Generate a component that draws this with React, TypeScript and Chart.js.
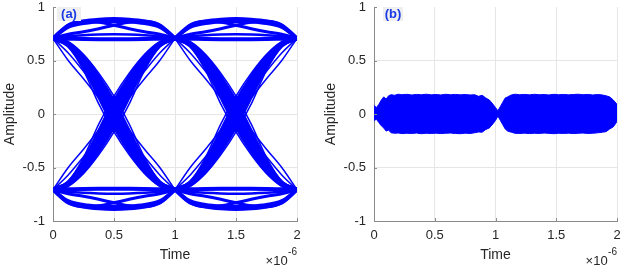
import React, { useEffect, useRef } from "react";
import { Chart, registerables } from "chart.js";

Chart.register(...registerables);

// ---------- data ----------
// time axis in units of 1e-6 s
const X_TICKS = [0, 0.5, 1, 1.5, 2];
const Y_TICKS = [-1, -0.5, 0, 0.5, 1];

// (a) eye diagram: one symbol window sampled at these times, shown in both windows
const T_GRID = [0, 0.125, 0.25, 0.375, 0.5, 0.625, 0.75, 0.875, 1];
const WINDOW_OFFSETS = [0, 1];

// same-level traces, high rail
const HIGH_TOP = [0.707, 0.828, 0.865, 0.882, 0.888, 0.882, 0.865, 0.828, 0.707];
const HIGH_TOP2 = [0.707, 0.81, 0.845, 0.86, 0.864, 0.86, 0.845, 0.81, 0.707];
const HIGH_CROSS_A = [0.707, 0.83, 0.866, 0.857, 0.83, 0.797, 0.768, 0.745, 0.707];
const HIGH_CROSS_B = [0.707, 0.745, 0.768, 0.797, 0.83, 0.857, 0.866, 0.83, 0.707];
const HIGH_LOW_ARC = [0.707, 0.726, 0.737, 0.743, 0.745, 0.743, 0.737, 0.726, 0.707];
const HIGH_FLAT = [0.707, 0.704, 0.701, 0.699, 0.698, 0.699, 0.701, 0.704, 0.707];

// same-level traces, low rail
const LOW_BOTTOM = [-0.707, -0.828, -0.865, -0.882, -0.888, -0.882, -0.865, -0.828, -0.707];
const LOW_BOTTOM2 = [-0.707, -0.81, -0.845, -0.86, -0.864, -0.86, -0.845, -0.81, -0.707];
const LOW_CROSS_A = [-0.707, -0.83, -0.866, -0.857, -0.83, -0.797, -0.768, -0.745, -0.707];
const LOW_CROSS_B = [-0.707, -0.745, -0.768, -0.797, -0.83, -0.857, -0.866, -0.83, -0.707];
const LOW_HIGH_ARC = [-0.707, -0.726, -0.737, -0.743, -0.745, -0.743, -0.737, -0.726, -0.707];
const LOW_FLAT = [-0.707, -0.704, -0.701, -0.699, -0.698, -0.699, -0.701, -0.704, -0.707];

// falling transitions (+0.707 -> -0.707), named by zero-crossing time
const FALL_050 = [0.707, 0.653, 0.5, 0.271, 0.0, -0.271, -0.5, -0.653, -0.707];
const FALL_047 = [0.707, 0.646, 0.474, 0.22, -0.062, -0.313, -0.521, -0.66, -0.707];
const FALL_053 = [0.707, 0.66, 0.521, 0.313, 0.062, -0.22, -0.474, -0.646, -0.707];
const FALL_044 = [0.707, 0.638, 0.444, 0.162, -0.119, -0.349, -0.54, -0.665, -0.707];
const FALL_056 = [0.707, 0.665, 0.54, 0.349, 0.119, -0.162, -0.444, -0.638, -0.707];
const FALL_041 = [0.707, 0.627, 0.407, 0.094, -0.168, -0.382, -0.556, -0.669, -0.707];
const FALL_059 = [0.707, 0.669, 0.556, 0.382, 0.168, -0.094, -0.407, -0.627, -0.707];
const FALL_FAST_START = [0.707, 0.5, 0.33, 0.15, -0.04, -0.22, -0.4, -0.57, -0.707];
const FALL_FAST_END = [0.707, 0.57, 0.4, 0.22, 0.04, -0.15, -0.33, -0.5, -0.707];

// rising transitions (-0.707 -> +0.707)
const RISE_050 = [-0.707, -0.653, -0.5, -0.271, 0.0, 0.271, 0.5, 0.653, 0.707];
const RISE_047 = [-0.707, -0.646, -0.474, -0.22, 0.062, 0.313, 0.521, 0.66, 0.707];
const RISE_053 = [-0.707, -0.66, -0.521, -0.313, -0.062, 0.22, 0.474, 0.646, 0.707];
const RISE_044 = [-0.707, -0.638, -0.444, -0.162, 0.119, 0.349, 0.54, 0.665, 0.707];
const RISE_056 = [-0.707, -0.665, -0.54, -0.349, -0.119, 0.162, 0.444, 0.638, 0.707];
const RISE_041 = [-0.707, -0.627, -0.407, -0.094, 0.168, 0.382, 0.556, 0.669, 0.707];
const RISE_059 = [-0.707, -0.669, -0.556, -0.382, -0.168, 0.094, 0.407, 0.627, 0.707];
const RISE_FAST_START = [-0.707, -0.5, -0.33, -0.15, 0.04, 0.22, 0.4, 0.57, 0.707];
const RISE_FAST_END = [-0.707, -0.57, -0.4, -0.22, -0.04, 0.15, 0.33, 0.5, 0.707];

// (b) envelope of the residual signal band
const B_TIME = [
  0, 0.02, 0.04, 0.06, 0.08, 0.1, 0.12, 0.14, 0.17, 0.2, 0.23, 0.27, 0.31, 0.35, 0.39,
  0.43, 0.47, 0.51, 0.55, 0.59, 0.63, 0.67, 0.71, 0.75, 0.79, 0.83, 0.86, 0.89, 0.92,
  0.95, 0.98, 1.0, 1.02, 1.04, 1.06, 1.08, 1.1, 1.13, 1.16, 1.2, 1.24, 1.28, 1.32,
  1.36, 1.4, 1.44, 1.48, 1.52, 1.56, 1.6, 1.64, 1.68, 1.72, 1.76, 1.8, 1.84, 1.88,
  1.91, 1.94, 1.97, 2.0,
];
const B_UPPER = [
  0.08, 0.06, 0.09, 0.13, 0.16, 0.14, 0.17, 0.18, 0.175, 0.185, 0.18, 0.184, 0.178,
  0.183, 0.18, 0.185, 0.179, 0.182, 0.178, 0.184, 0.18, 0.183, 0.179, 0.182, 0.178,
  0.18, 0.165, 0.175, 0.15, 0.13, 0.09, 0.06, 0.03, 0.07, 0.11, 0.15, 0.16, 0.178,
  0.185, 0.18, 0.183, 0.179, 0.184, 0.18, 0.182, 0.178, 0.184, 0.18, 0.183, 0.179,
  0.182, 0.185, 0.18, 0.183, 0.178, 0.182, 0.178, 0.17, 0.16, 0.13, 0.09,
];
const B_LOWER = [
  -0.06, -0.05, -0.08, -0.11, -0.13, -0.16, -0.15, -0.175, -0.18, -0.178, -0.183,
  -0.18, -0.182, -0.178, -0.184, -0.18, -0.182, -0.179, -0.183, -0.18, -0.178,
  -0.182, -0.184, -0.179, -0.182, -0.175, -0.168, -0.17, -0.145, -0.13, -0.09,
  -0.06, -0.02, -0.06, -0.1, -0.14, -0.16, -0.17, -0.18, -0.182, -0.179, -0.183,
  -0.18, -0.182, -0.178, -0.181, -0.184, -0.18, -0.182, -0.179, -0.183, -0.18,
  -0.178, -0.182, -0.18, -0.176, -0.17, -0.165, -0.14, -0.12, -0.07,
];

// ---------- styles ----------
const BLUE = "#0000ff";
const GRID = "#e6e6e6";
const AXIS = "#8a8a8a";
const TEXT = "#262626";
const FONT = "'Liberation Sans', Arial, Helvetica, sans-serif";

const EYE_TRACES: { values: number[]; width: number }[] = [
  { values: HIGH_FLAT, width: 4 },
  { values: HIGH_TOP, width: 4 },
  { values: HIGH_TOP2, width: 3 },
  { values: HIGH_CROSS_A, width: 3 },
  { values: HIGH_CROSS_B, width: 3 },
  { values: HIGH_LOW_ARC, width: 2.5 },
  { values: LOW_FLAT, width: 4 },
  { values: LOW_BOTTOM, width: 4 },
  { values: LOW_BOTTOM2, width: 3 },
  { values: LOW_CROSS_A, width: 3 },
  { values: LOW_CROSS_B, width: 3 },
  { values: LOW_HIGH_ARC, width: 2.5 },
  { values: FALL_050, width: 4.5 },
  { values: FALL_047, width: 4 },
  { values: FALL_053, width: 4 },
  { values: FALL_044, width: 3.5 },
  { values: FALL_056, width: 3.5 },
  { values: FALL_041, width: 1.5 },
  { values: FALL_059, width: 1.5 },
  { values: FALL_FAST_START, width: 1.5 },
  { values: FALL_FAST_END, width: 1.5 },
  { values: RISE_050, width: 4.5 },
  { values: RISE_047, width: 4 },
  { values: RISE_053, width: 4 },
  { values: RISE_044, width: 3.5 },
  { values: RISE_056, width: 3.5 },
  { values: RISE_041, width: 1.5 },
  { values: RISE_059, width: 1.5 },
  { values: RISE_FAST_START, width: 1.5 },
  { values: RISE_FAST_END, width: 1.5 },
];

function eyeDatasets() {
  const out: any[] = [];
  for (const tr of EYE_TRACES) {
    for (const off of WINDOW_OFFSETS) {
      out.push({
        data: T_GRID.map((t, i) => ({ x: t + off, y: tr.values[i] })),
        borderColor: BLUE,
        borderWidth: tr.width,
        pointRadius: 0,
        fill: false,
        cubicInterpolationMode: "monotone",
        borderCapStyle: "round",
        borderJoinStyle: "round",
      });
    }
  }
  return out;
}

function bandDatasets() {
  return [
    {
      data: B_TIME.map((t, i) => ({ x: t, y: B_UPPER[i] })),
      borderColor: BLUE,
      backgroundColor: BLUE,
      borderWidth: 1,
      pointRadius: 0,
      fill: "+1",
      tension: 0,
    },
    {
      data: B_TIME.map((t, i) => ({ x: t, y: B_LOWER[i] })),
      borderColor: BLUE,
      backgroundColor: BLUE,
      borderWidth: 1,
      pointRadius: 0,
      fill: false,
      tension: 0,
    },
  ];
}

function makeDecorPlugin(tag: string, tagBox: [number, number]) {
  return {
    id: "decor" + tag.replace(/[()]/g, ""),
    afterDraw(chart: any) {
      const { ctx, chartArea, scales } = chart;
      ctx.save();
      // inward tick marks
      ctx.strokeStyle = AXIS;
      ctx.lineWidth = 1;
      ctx.beginPath();
      for (const v of X_TICKS) {
        const px = Math.round(scales.x.getPixelForValue(v)) + 0.5;
        ctx.moveTo(px, chartArea.bottom);
        ctx.lineTo(px, chartArea.bottom - 3);
      }
      for (const v of Y_TICKS) {
        const py = Math.round(scales.y.getPixelForValue(v)) + 0.5;
        ctx.moveTo(chartArea.left, py);
        ctx.lineTo(chartArea.left + 3, py);
      }
      ctx.stroke();
      // panel tag
      const [bx, bw] = tagBox;
      ctx.fillStyle = "#efefef";
      ctx.fillRect(chartArea.left + bx, chartArea.top, bw, 14);
      ctx.fillStyle = "#1a3ae6";
      ctx.font = `bold 13px ${FONT}`;
      ctx.textAlign = "center";
      ctx.textBaseline = "middle";
      ctx.fillText(tag, chartArea.left + bx + bw / 2, chartArea.top + 7.5);
      // exponent label
      ctx.fillStyle = TEXT;
      ctx.textAlign = "right";
      ctx.textBaseline = "alphabetic";
      ctx.font = `10px ${FONT}`;
      const right = chartArea.right;
      ctx.fillText("-6", right, 255);
      const w = ctx.measureText("-6").width;
      ctx.font = `13px ${FONT}`;
      ctx.fillText("\u00d710", right - w - 0.5, 265);
      ctx.restore();
    },
  };
}

function buildOptions(padRight: number): any {
  return {
    responsive: false,
    animation: false,
    events: [],
    layout: { padding: { left: 0, top: 7, right: padRight, bottom: 0 } },
    plugins: { legend: { display: false }, tooltip: { enabled: false } },
    scales: {
      x: {
        type: "linear",
        min: 0,
        max: 2,
        afterBuildTicks: (s: any) => {
          s.ticks = X_TICKS.map((v) => ({ value: v }));
        },
        afterFit: (s: any) => {
          s.height = 50;
          s.paddingLeft = 0;
          s.paddingRight = 0;
        },
        ticks: {
          color: TEXT,
          font: { family: FONT, size: 13 },
          padding: 7,
          maxRotation: 0,
          autoSkip: false,
          callback: (v: any) => String(v),
        },
        grid: { color: GRID, drawTicks: false, lineWidth: 1 },
        border: { color: AXIS, width: 1 },
        title: {
          display: true,
          text: "Time",
          color: TEXT,
          font: { family: FONT, size: 14 },
          padding: { top: 0, bottom: 7 },
        },
      },
      y: {
        type: "linear",
        min: -1,
        max: 1,
        afterBuildTicks: (s: any) => {
          s.ticks = Y_TICKS.map((v) => ({ value: v }));
        },
        afterFit: (s: any) => {
          s.width = 53;
          s.paddingTop = 0;
          s.paddingBottom = 0;
        },
        ticks: {
          color: TEXT,
          font: { family: FONT, size: 13 },
          padding: 8,
          autoSkip: false,
          callback: (v: any) => String(v),
        },
        grid: {
          color: (c: any) => (c.tick && c.tick.value === 1 ? "rgba(0,0,0,0)" : GRID),
          drawTicks: false,
          lineWidth: 1,
        },
        border: { color: AXIS, width: 1 },
        title: {
          display: true,
          text: "Amplitude",
          color: TEXT,
          font: { family: FONT, size: 14 },
          padding: { top: 2, bottom: 0 },
        },
      },
    },
  };
}

function Panel(props: {
  left: number;
  width: number;
  padRight: number;
  tag: string;
  tagBox: [number, number];
  datasets: () => any[];
}) {
  const ref = useRef<HTMLCanvasElement | null>(null);
  useEffect(() => {
    if (!ref.current) return;
    const chart = new Chart(ref.current, {
      type: "line",
      data: { datasets: props.datasets() },
      options: buildOptions(props.padRight),
      plugins: [makeDecorPlugin(props.tag, props.tagBox)],
    } as any);
    return () => chart.destroy();
  }, []);
  return (
    <canvas
      ref={ref}
      width={props.width}
      height={271}
      style={{ position: "absolute", left: props.left, top: 0, width: props.width, height: 271 }}
    />
  );
}

export default function App() {
  return (
    <div
      style={{
        position: "fixed",
        left: 0,
        top: 0,
        width: 623,
        height: 271,
        background: "#ffffff",
        overflow: "hidden",
      }}
    >
      <Panel left={0} width={311} padRight={14} tag="(a)" tagBox={[4, 24]} datasets={eyeDatasets} />
      <Panel left={321} width={302} padRight={6} tag="(b)" tagBox={[9, 20]} datasets={bandDatasets} />
    </div>
  );
}
